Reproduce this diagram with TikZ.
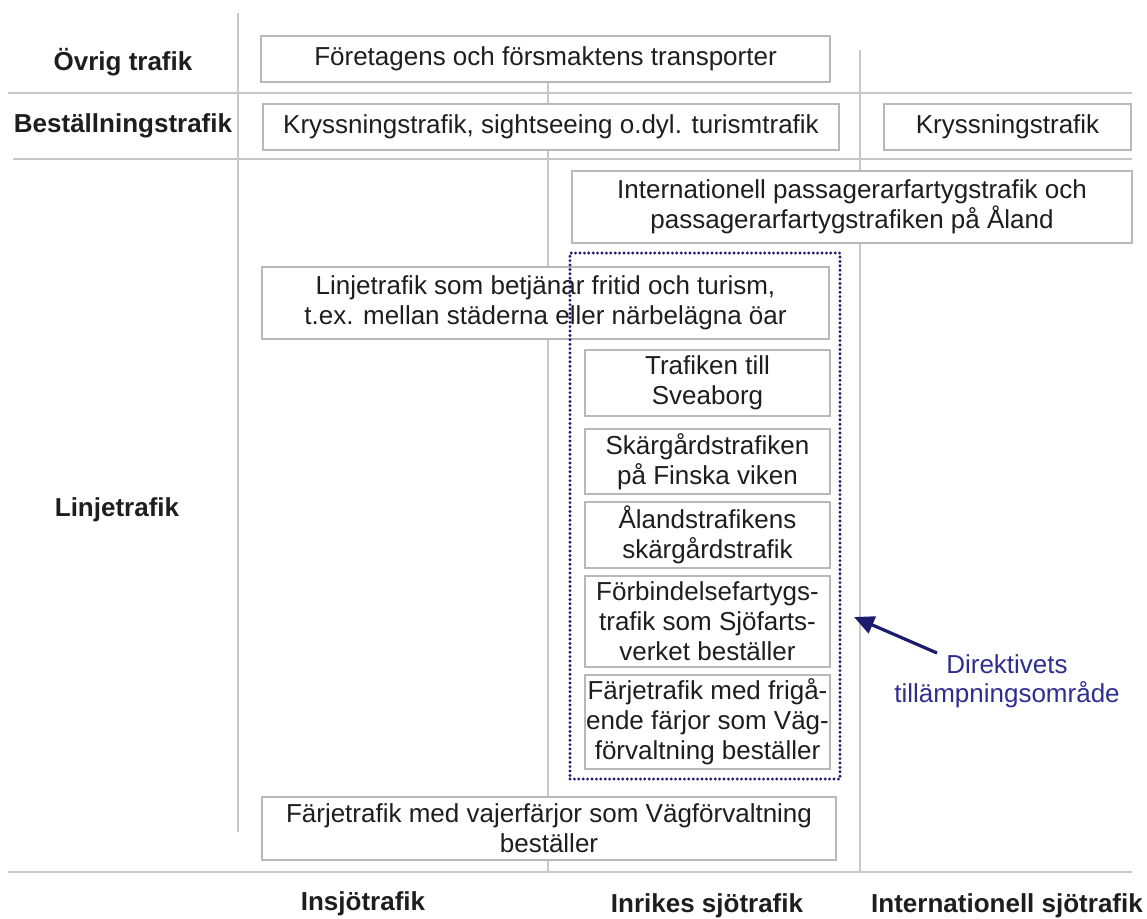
\documentclass[tikz,border=0pt]{standalone}
\usepackage{fontspec}
\setmainfont{Liberation Sans}
\usetikzlibrary{arrows.meta}
\definecolor{gridgray}{HTML}{C8C8C8}
\definecolor{boxgray}{HTML}{B8B8B8}
\definecolor{navy}{HTML}{1C1C6E}
\definecolor{navytext}{HTML}{2E2E90}
\definecolor{ink}{HTML}{1E1E1E}
\tikzset{
  grid line/.style={draw=gridgray, line width=0.8pt},
  tbox/.style={draw=boxgray, fill=white, line width=0.75pt, inner sep=0pt,
    align=center, text=ink, font=\fontsize{13}{15}\selectfont},
  rowlabel/.style={font=\fontsize{13}{15}\selectfont\bfseries, text=ink, inner sep=0pt},
  scopebox/.style={draw=navy, line width=1.6pt, line cap=round,
    dash pattern=on 0pt off 2.2pt, inner sep=0pt},
  note/.style={text=navytext, align=center, inner sep=0pt,
    font=\fontsize{13}{14.5}\selectfont},
  pointer/.style={draw=navy, line width=1.6pt, -{Triangle[length=10pt,width=9pt]}}
}
\begin{document}
\begin{tikzpicture}[x=0.5pt,y=-0.5pt]
\useasboundingbox (0,0) rectangle (1147,918);
% grid lines
\coordinate (l1t) at (238,13);  \coordinate (l1b) at (238,832);
\coordinate (l2t) at (548,60);  \coordinate (l2b) at (548,872);
\coordinate (l3t) at (860,50);  \coordinate (l3b) at (860,872);
\coordinate (h1l) at (8,93);    \coordinate (h1r) at (1132,93);
\coordinate (h2l) at (13,159);  \coordinate (h2r) at (1132,159);
\coordinate (h3l) at (8,872);   \coordinate (h3r) at (1132,872);
\draw[grid line] (l1t) -- (l1b);
\draw[grid line] (l2t) -- (l2b);
\draw[grid line] (l3t) -- (l3b);
\draw[grid line] (h1l) -- (h1r);
\draw[grid line] (h2l) -- (h2r);
\draw[grid line] (h3l) -- (h3r);
% row labels
\node[rowlabel] (r1) at (123,62) {Övrig trafik};
\node[rowlabel] (r2) at (123,126) {Beställningstrafik};
\node[rowlabel] (r3) at (117,510) {Linjetrafik};
% column labels
\node[rowlabel] (c1) at (363,904) {Insjötrafik};
\node[rowlabel] (c2) at (707,906) {Inrikes sjötrafik};
\node[rowlabel] (c3) at (1007,906) {Internationell sjötrafik};
% boxes
\node[tbox, minimum width=284.5pt, minimum height=23pt] (b1) at (545.5,59)
  {Företagens och försmaktens transporter};
\node[tbox, minimum width=288pt, minimum height=23pt] (b2) at (551,127)
  {Kryssningstrafik, sightseeing o.dyl. turismtrafik};
\node[tbox, minimum width=123.5pt, minimum height=23pt] (b3) at (1007.5,127)
  {Kryssningstrafik};
\node[tbox, minimum width=280pt, minimum height=36pt] (b4) at (852,207)
  {Internationell passagerarfartygstrafik och\\passagerarfartygstrafiken på Åland};
\node[tbox, minimum width=283.5pt, minimum height=36pt] (b5) at (545.5,303)
  {Linjetrafik som betjänar fritid och turism,\\t.ex. mellan städerna eller närbelägna öar};
\node[tbox, minimum width=122.5pt, minimum height=33pt] (s1) at (707.5,383)
  {Trafiken till\\Sveaborg};
\node[tbox, minimum width=122.5pt, minimum height=32.5pt] (s2) at (707.5,461.5)
  {Skärgårdstrafiken\\på Finska viken};
\node[tbox, minimum width=122.5pt, minimum height=33pt] (s3) at (707.5,535)
  {Ålandstrafikens\\skärgårdstrafik};
\node[tbox, minimum width=122.5pt, minimum height=45.5pt] (s4) at (707.5,621.5)
  {Förbindelsefartygs-\\trafik som Sjöfarts-\\verket beställer};
\node[tbox, minimum width=122.5pt, minimum height=47pt] (s5) at (707.5,722)
  {Färjetrafik med frigå-\\ende färjor som Väg-\\förvaltning beställer};
\node[tbox, minimum width=287pt, minimum height=31.5pt] (b6) at (549,828.5)
  {Färjetrafik med vajerfärjor som Vägförvaltning\\beställer};
% scope of the directive
\node[scopebox, minimum width=135pt, minimum height=263pt] (dz) at (705,516) {};
\node[note] (lbl) at (1007,681) {Direktivets\\tillämpningsområde};
\coordinate (atail) at (937,653);
\coordinate (ahead) at (854,617);
\draw[pointer] (atail) -- (ahead);
\end{tikzpicture}
\end{document}
